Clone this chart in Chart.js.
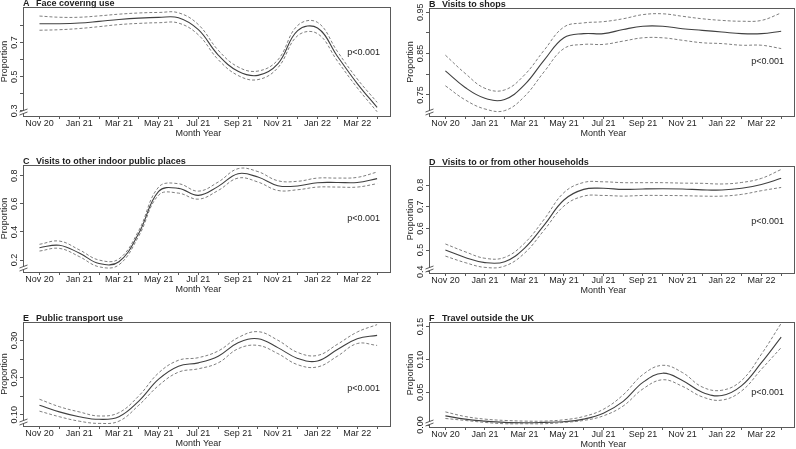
<!DOCTYPE html>
<html><head><meta charset="utf-8">
<script src="https://cdn.jsdelivr.net/npm/chart.js@4.4.0/dist/chart.umd.min.js"></script>
<style>
html,body{margin:0;padding:0;background:#fff;width:796px;height:449px;overflow:hidden;position:relative;}
canvas{position:absolute;}
</style></head><body>
<script>
// ---- data ----
const months = [0,1,2,3,4,5,6,7,8,9,10,11,12,13,14,15,16,17];
const monthLabels = ['Nov 20','','Jan 21','','Mar 21','','May 21','','Jul 21','','Sep 21','','Nov 21','','Jan 22','','Mar 22',''];

const faceFit   = [0.810,0.810,0.814,0.824,0.835,0.843,0.847,0.845,0.775,0.627,0.532,0.508,0.575,0.770,0.785,0.620,0.460,0.320];
const faceUpper = [0.855,0.848,0.848,0.856,0.866,0.873,0.876,0.874,0.805,0.655,0.557,0.533,0.598,0.800,0.818,0.648,0.487,0.350];
const faceLower = [0.772,0.775,0.782,0.793,0.805,0.812,0.816,0.814,0.745,0.600,0.507,0.483,0.552,0.740,0.752,0.592,0.435,0.295];
const faceTicks = [0.3,0.4,0.5,0.6,0.7,0.8];
const faceTickLabels = ['0.3','','0.5','','0.7',''];

const shopFit   = [0.808,0.768,0.742,0.739,0.774,0.834,0.888,0.898,0.898,0.908,0.916,0.916,0.910,0.906,0.902,0.898,0.898,0.904];
const shopUpper = [0.846,0.802,0.766,0.762,0.798,0.858,0.914,0.924,0.927,0.934,0.944,0.946,0.940,0.934,0.930,0.928,0.930,0.948];
const shopLower = [0.772,0.738,0.716,0.712,0.746,0.806,0.862,0.872,0.872,0.880,0.888,0.888,0.882,0.876,0.874,0.870,0.870,0.862];
const shopTicks = [0.75,0.80,0.85,0.90,0.95];
const shopTickLabels = ['0.75','','0.85','','0.95'];

const indoorFit   = [0.288,0.305,0.250,0.175,0.188,0.390,0.688,0.710,0.660,0.724,0.814,0.790,0.729,0.727,0.750,0.752,0.752,0.779];
const indoorUpper = [0.312,0.335,0.273,0.200,0.208,0.410,0.719,0.743,0.690,0.755,0.850,0.829,0.764,0.760,0.783,0.783,0.788,0.826];
const indoorLower = [0.264,0.283,0.225,0.152,0.166,0.371,0.662,0.676,0.633,0.695,0.783,0.755,0.695,0.700,0.719,0.719,0.719,0.743];
const indoorTicks = [0.2,0.4,0.6,0.8];
const indoorTickLabels = ['0.2','0.4','0.6','0.8'];

const houseFit   = [0.500,0.466,0.442,0.446,0.508,0.615,0.731,0.780,0.785,0.780,0.782,0.783,0.782,0.778,0.777,0.785,0.803,0.831];
const houseUpper = [0.528,0.492,0.462,0.466,0.531,0.642,0.765,0.812,0.815,0.811,0.811,0.811,0.809,0.808,0.805,0.812,0.831,0.872];
const houseLower = [0.472,0.442,0.420,0.426,0.485,0.592,0.703,0.749,0.752,0.749,0.752,0.752,0.751,0.749,0.749,0.757,0.774,0.789];
const houseTicks = [0.4,0.5,0.6,0.7,0.8];
const houseTickLabels = ['0.4','0.5','0.6','0.7','0.8'];

const transportFit   = [0.126,0.108,0.095,0.088,0.095,0.137,0.196,0.231,0.240,0.258,0.294,0.305,0.281,0.252,0.245,0.276,0.305,0.314];
const transportUpper = [0.142,0.122,0.108,0.097,0.106,0.151,0.213,0.247,0.254,0.272,0.308,0.324,0.301,0.268,0.260,0.290,0.323,0.343];
const transportLower = [0.110,0.095,0.083,0.077,0.083,0.126,0.179,0.215,0.224,0.240,0.278,0.287,0.265,0.235,0.229,0.258,0.292,0.287];
const transportTicks = [0.10,0.15,0.20,0.25,0.30];
const transportTickLabels = ['0.10','','0.20','','0.30'];

const travelFit   = [0.014,0.009,0.006,0.004,0.0035,0.004,0.005,0.009,0.018,0.036,0.065,0.079,0.068,0.050,0.045,0.060,0.095,0.134];
const travelUpper = [0.020,0.013,0.009,0.007,0.006,0.006,0.008,0.013,0.024,0.046,0.077,0.091,0.080,0.058,0.053,0.068,0.108,0.155];
const travelLower = [0.010,0.007,0.004,0.002,0.002,0.002,0.004,0.007,0.014,0.029,0.055,0.069,0.059,0.043,0.038,0.052,0.085,0.118];
const travelTicks = [0.00,0.05,0.10,0.15];
const travelTickLabels = ['0.00','0.05','0.10','0.15'];

const pText = 'p<0.001';

// ---- layout ----
const FONT = '"Liberation Sans", Arial, sans-serif';
const TXT = '#1e1e1e';
const LINE = '#5a5a5a';
const panels = [
  {letter:'A', title:'Face covering use', box:[23,7,391,116], y:[0.27,0.908], ticks:faceTicks, tickLabels:faceTickLabels, fit:faceFit, up:faceUpper, lo:faceLower, pY:46},
  {letter:'B', title:'Visits to shops', box:[429,8,795,116], y:[0.699,0.96], ticks:shopTicks, tickLabels:shopTickLabels, fit:shopFit, up:shopUpper, lo:shopLower, pY:54},
  {letter:'C', title:'Visits to other indoor public places', box:[23,165,391,272], y:[0.115,0.876], ticks:indoorTicks, tickLabels:indoorTickLabels, fit:indoorFit, up:indoorUpper, lo:indoorLower, pY:54},
  {letter:'D', title:'Visits to or from other households', box:[429,166,795,273], y:[0.394,0.888], ticks:houseTicks, tickLabels:houseTickLabels, fit:houseFit, up:houseUpper, lo:houseLower, pY:56},
  {letter:'E', title:'Public transport use', box:[23,322,391,426], y:[0.070,0.35], ticks:transportTicks, tickLabels:transportTickLabels, fit:transportFit, up:transportUpper, lo:transportLower, pY:67},
  {letter:'F', title:'Travel outside the UK', box:[429,322,795,427], y:[-0.003,0.157], ticks:travelTicks, tickLabels:travelTickLabels, fit:travelFit, up:travelUpper, lo:travelLower, pY:71}
];
const X_MIN = -0.83, X_MAX = 17.7;

function decorate(p){
  return {
    id:'decor'+p.letter,
    afterDraw(chart){
      const ctx = chart.ctx, ca = chart.chartArea, ys = chart.scales.y;
      ctx.save();
      // box
      ctx.strokeStyle = LINE; ctx.lineWidth = 1;
      ctx.strokeRect(Math.round(ca.left)+0.5, Math.round(ca.top)+0.5, Math.round(ca.right-ca.left)-1, Math.round(ca.bottom-ca.top));
      // axis break
      const bx = Math.round(ca.left)+0.5, by = ca.bottom - 5;
      ctx.fillStyle = '#fff';
      ctx.beginPath(); ctx.moveTo(bx-4, by+1); ctx.lineTo(bx+4, by-2); ctx.lineTo(bx+4, by+1); ctx.lineTo(bx-4, by+4); ctx.closePath(); ctx.fill();
      ctx.strokeStyle = LINE;
      ctx.beginPath(); ctx.moveTo(bx-4, by+1); ctx.lineTo(bx+4, by-2); ctx.stroke();
      ctx.beginPath(); ctx.moveTo(bx-4, by+4); ctx.lineTo(bx+4, by+1); ctx.stroke();
      // y tick labels (rotated)
      ctx.fillStyle = TXT; ctx.font = '9px ' + FONT;
      ctx.textAlign = 'center'; ctx.textBaseline = 'middle';
      p.ticks.forEach((v,i)=>{
        const lab = p.tickLabels[i]; if(!lab) return;
        ctx.save(); ctx.translate(ca.left - 8.5, ys.getPixelForValue(v)); ctx.rotate(-Math.PI/2);
        ctx.fillText(lab, 0, 0); ctx.restore();
      });
      // y axis title
      ctx.save(); ctx.translate(ca.left - 18.5, (ca.top+ca.bottom)/2); ctx.rotate(-Math.PI/2);
      ctx.fillText('Proportion', 0, 0); ctx.restore();
      // x axis title
      ctx.fillText('Month Year', chart.scales.x.getPixelForValue(8), ca.bottom + 17.5);
      // p-value
      ctx.textAlign = 'right';
      ctx.fillText(pText, ca.right - 11, ca.top + p.pY);
      // panel title
      ctx.font = 'bold 9px ' + FONT; ctx.textAlign = 'left'; ctx.textBaseline = 'alphabetic';
      ctx.fillText(p.letter, ca.left, ca.top - 1.5);
      ctx.fillText(p.title, ca.left + 13, ca.top - 1.5);
      ctx.restore();
    }
  };
}

const PAD_T = 10, X_H = 24;
panels.forEach(p=>{
  const [l,t,r,b] = p.box;
  const yW = l < 200 ? 23 : 30;
  const padR = l < 200 ? 5 : 1;
  const cv = document.createElement('canvas');
  const w = yW + (r-l) + padR, h = PAD_T + (b-t) + X_H;
  cv.width = w; cv.height = h;
  cv.style.width = w+'px'; cv.style.height = h+'px';
  cv.style.left = (l - yW)+'px'; cv.style.top = (t - PAD_T)+'px';
  document.body.appendChild(cv);
  const mk = (arr, solid) => ({
    data: months.map((m,i)=>({x:m, y:arr[i]})),
    borderColor: solid ? '#404040' : '#707070',
    borderWidth: solid ? 1.1 : 0.9,
    borderDash: solid ? [] : [3,2],
    pointRadius: 0, tension: 0.4, fill:false
  });
  new Chart(cv, {
    type:'line',
    data:{datasets:[mk(p.up,false), mk(p.lo,false), mk(p.fit,true)]},
    options:{
      responsive:false, animation:false, devicePixelRatio:1,
      layout:{padding:{top:PAD_T, right:padR, left:0, bottom:0}},
      plugins:{legend:{display:false}, tooltip:{enabled:false}, title:{display:false}},
      scales:{
        x:{type:'linear', min:X_MIN, max:X_MAX,
           afterBuildTicks:s=>{ s.ticks = months.map(v=>({value:v})); },
           afterFit:s=>{ s.height = X_H; },
           grid:{display:true, drawOnChartArea:false, drawTicks:true, tickLength:3, color:LINE},
           border:{display:false},
           ticks:{autoSkip:false, maxRotation:0, minRotation:0, padding:-1, color:TXT,
                  font:{size:9, family:FONT}, callback:(v)=>monthLabels[v] ?? ''}},
        y:{type:'linear', min:p.y[0], max:p.y[1],
           afterBuildTicks:s=>{ s.ticks = p.ticks.map(v=>({value:v})); },
           afterFit:s=>{ s.width = yW; },
           grid:{display:true, drawOnChartArea:false, drawTicks:true, tickLength:3, color:LINE},
           border:{display:false},
           ticks:{display:false}}
      }
    },
    plugins:[decorate(p)]
  });
});
</script>
</body></html>
